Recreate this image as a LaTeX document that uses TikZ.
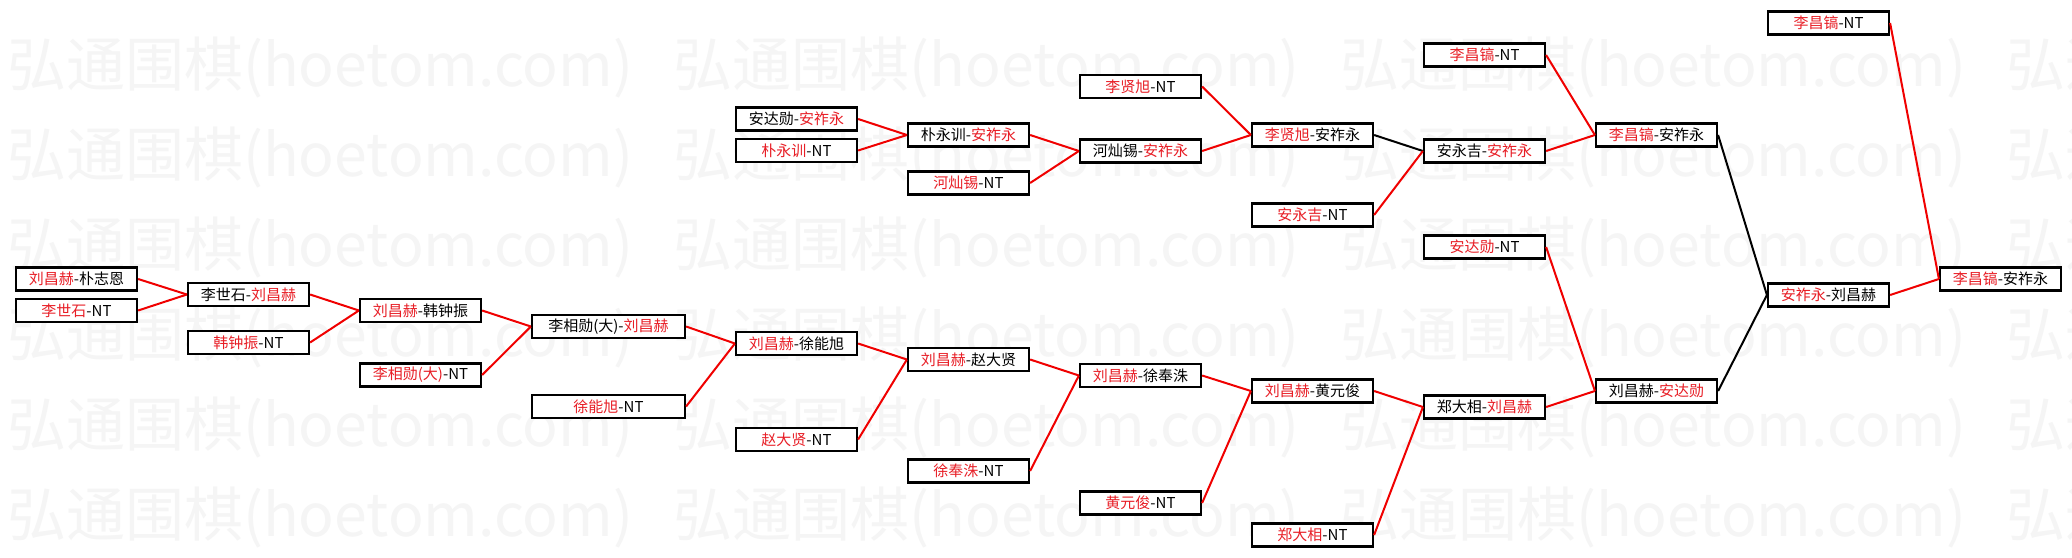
\documentclass[tikz,border=0pt]{standalone}
\usepackage{fontspec}
\newfontfamily\cjk{Noto Sans CJK SC}
\usepackage{tikz}
\usetikzlibrary{positioning}
\definecolor{gored}{RGB}{232,30,38}
\definecolor{goline}{RGB}{240,0,0}
\newcommand{\wn}[1]{\textcolor{gored}{#1}}

\begin{document}
\begin{tikzpicture}[
  x=1pt, y=-1pt,
  game/.style={draw, line width=2.2pt, fill=white, minimum width=121pt, minimum height=23pt, inner sep=0pt, font=\cjk\fontsize{15}{17}\selectfont},
  widegame/.style={game, minimum width=153pt},
  win/.style={draw=goline, line width=2pt},
  lose/.style={draw=black, line width=2pt},
  wmark/.style={anchor=west, inner sep=0pt, text=black!4, font=\cjk\fontsize{59}{65}\selectfont}
  ]
  \fill[white] (0,0) rectangle (2072,557);
  \useasboundingbox (0,0) rectangle (2072,557);
  \begin{scope}
    \clip (0,0) rectangle (2072,557);
    \foreach \row in {0,...,5}
      \foreach \col in {0,...,3}
        \node[wmark] (wm-\row-\col) at (7+\col*666.5, 67+\row*90) {弘通围棋(hoetom.com)};
  \end{scope}
  \node[game] (m1a) at (76.5,279) {\wn{刘昌赫}-朴志恩};
  \node[game] (m1b) at (76.5,310.5) {\wn{李世石}-NT};
  \node[game] (m2a) at (248.5,294.5) {李世石-\wn{刘昌赫}};
  \node[game] (m2b) at (248.5,342.5) {\wn{韩钟振}-NT};
  \node[game] (m3a) at (420.5,310.5) {\wn{刘昌赫}-韩钟振};
  \node[game] (m3b) at (420.5,375) {\wn{李相勋(大)}-NT};
  \node[widegame] (m4a) at (608.5,326.5) {李相勋(大)-\wn{刘昌赫}};
  \node[widegame] (m4b) at (608.5,406.5) {\wn{徐能旭}-NT};
  \node[game] (m5a) at (796.5,119) {安达勋-\wn{安祚永}};
  \node[game] (m5b) at (796.5,150.5) {\wn{朴永训}-NT};
  \node[game] (m5c) at (796.5,343.5) {\wn{刘昌赫}-徐能旭};
  \node[game] (m5d) at (796.5,439.5) {\wn{赵大贤}-NT};
  \node[game] (m6a) at (968.5,135) {朴永训-\wn{安祚永}};
  \node[game] (m6b) at (968.5,183) {\wn{河灿锡}-NT};
  \node[game] (m6c) at (968.5,359.5) {\wn{刘昌赫}-赵大贤};
  \node[game] (m6d) at (968.5,471) {\wn{徐奉洙}-NT};
  \node[game] (m7a) at (1140.5,86.5) {\wn{李贤旭}-NT};
  \node[game] (m7b) at (1140.5,151) {河灿锡-\wn{安祚永}};
  \node[game] (m7c) at (1140.5,375.5) {\wn{刘昌赫}-徐奉洙};
  \node[game] (m7d) at (1140.5,503) {\wn{黄元俊}-NT};
  \node[game] (m8a) at (1312.5,135) {\wn{李贤旭}-安祚永};
  \node[game] (m8b) at (1312.5,215) {\wn{安永吉}-NT};
  \node[game] (m8c) at (1312.5,391) {\wn{刘昌赫}-黄元俊};
  \node[game] (m8d) at (1312.5,535) {\wn{郑大相}-NT};
  \node[game] (m9a) at (1484.5,55) {\wn{李昌镐}-NT};
  \node[game] (m9b) at (1484.5,151) {安永吉-\wn{安祚永}};
  \node[game] (m9c) at (1484.5,247) {\wn{安达勋}-NT};
  \node[game] (m9d) at (1484.5,407) {郑大相-\wn{刘昌赫}};
  \node[game] (m10a) at (1656.5,135) {\wn{李昌镐}-安祚永};
  \node[game] (m10b) at (1656.5,391) {刘昌赫-\wn{安达勋}};
  \node[game] (m11a) at (1828.5,23) {\wn{李昌镐}-NT};
  \node[game] (m11b) at (1828.5,295) {\wn{安祚永}-刘昌赫};
  \node[game] (m12) at (2000.5,279) {\wn{李昌镐}-安祚永};
  \draw[win] (m1a.east) -- (m2a.west);
  \draw[win] (m1b.east) -- (m2a.west);
  \draw[win] (m2a.east) -- (m3a.west);
  \draw[win] (m2b.east) -- (m3a.west);
  \draw[win] (m3a.east) -- (m4a.west);
  \draw[win] (m3b.east) -- (m4a.west);
  \draw[win] (m4a.east) -- (m5c.west);
  \draw[win] (m4b.east) -- (m5c.west);
  \draw[win] (m5a.east) -- (m6a.west);
  \draw[win] (m5b.east) -- (m6a.west);
  \draw[win] (m5c.east) -- (m6c.west);
  \draw[win] (m5d.east) -- (m6c.west);
  \draw[win] (m6a.east) -- (m7b.west);
  \draw[win] (m6b.east) -- (m7b.west);
  \draw[win] (m6c.east) -- (m7c.west);
  \draw[win] (m6d.east) -- (m7c.west);
  \draw[win] (m7a.east) -- (m8a.west);
  \draw[win] (m7b.east) -- (m8a.west);
  \draw[win] (m7c.east) -- (m8c.west);
  \draw[win] (m7d.east) -- (m8c.west);
  \draw[lose] (m8a.east) -- (m9b.west);
  \draw[win] (m8b.east) -- (m9b.west);
  \draw[win] (m8c.east) -- (m9d.west);
  \draw[win] (m8d.east) -- (m9d.west);
  \draw[win] (m9a.east) -- (m10a.west);
  \draw[win] (m9b.east) -- (m10a.west);
  \draw[win] (m9c.east) -- (m10b.west);
  \draw[win] (m9d.east) -- (m10b.west);
  \draw[lose] (m10a.east) -- (m11b.west);
  \draw[lose] (m10b.east) -- (m11b.west);
  \draw[win] (m11a.east) -- (m12.west);
  \draw[win] (m11b.east) -- (m12.west);
\end{tikzpicture}
\end{document}
